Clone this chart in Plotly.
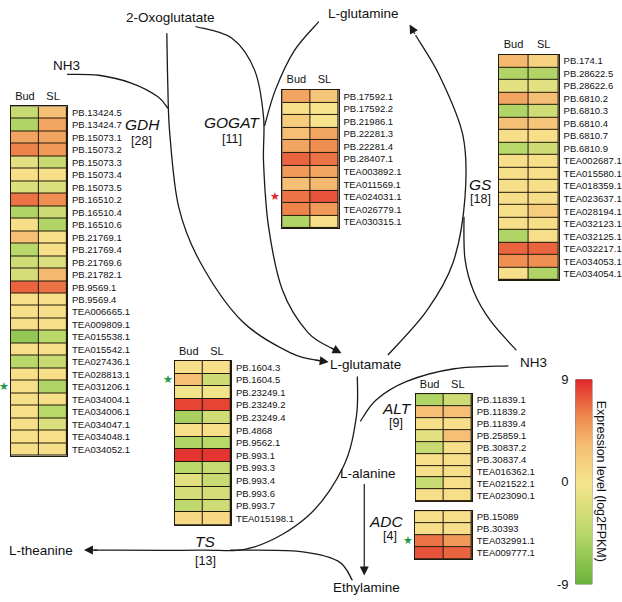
import numpy as np
import plotly.graph_objects as go

W, H = 622, 602

conditions = ["Bud", "SL"]

gdh_genes = ["PB.13424.5", "PB.13424.7", "PB.15073.1", "PB.15073.2", "PB.15073.3", "PB.15073.4",
             "PB.15073.5", "PB.16510.2", "PB.16510.4", "PB.16510.6", "PB.21769.1", "PB.21769.4",
             "PB.21769.6", "PB.21782.1", "PB.9569.1", "PB.9569.4", "TEA006665.1", "TEA009809.1",
             "TEA015538.1", "TEA015542.1", "TEA027436.1", "TEA028813.1", "TEA031206.1", "TEA034004.1",
             "TEA034006.1", "TEA034047.1", "TEA034048.1", "TEA034052.1"]
gdh_bud = [-3.5, -5, 4.5, 6, -1.5, 0.5, -2, 6.5, -5, 0.5, 3, -4.5, -3, -2.5, 7, 0.5, 0.5, 0.5,
           -6.5, 0.5, -4.5, 0.5, 0.5, 0.5, 0.5, 0.5, 0.5, 0.5]
gdh_sl = [3, 4.5, 4.5, 5, -3.5, 0.5, -2, 5.5, -3, -5, 0.5, 0.5, -2, 3.5, 6.5, 0.5, 0.5, 0.5,
          -4.5, 0.5, -3.5, 0.5, -5, 0.5, -4.5, -2, 0.5, 0.5]

gogat_genes = ["PB.17592.1", "PB.17592.2", "PB.21986.1", "PB.22281.3", "PB.22281.4", "PB.28407.1",
               "TEA003892.1", "TEA011569.1", "TEA024031.1", "TEA026779.1", "TEA030315.1"]
gogat_bud = [4.5, 0.5, 2, 3, 4.5, 7, 5, 3, 6.5, 6, -5]
gogat_sl = [2.5, 0, 0, 4.5, 5.5, 6.5, 4.5, 3.5, 7.5, 5, 0.5]

gs_genes = ["PB.174.1", "PB.28622.5", "PB.28622.6", "PB.6810.2", "PB.6810.3", "PB.6810.4",
            "PB.6810.7", "PB.6810.9", "TEA002687.1", "TEA015580.1", "TEA018359.1", "TEA023637.1",
            "TEA028194.1", "TEA032123.1", "TEA032125.1", "TEA032217.1", "TEA034053.1", "TEA034054.1"]
gs_bud = [3.5, -5, -1.5, 4.5, -5, 3, 0.5, -4.5, 0.5, 0.5, 0.5, 0.5, 0.5, 0.5, -5, 7, 5.5, 0.5]
gs_sl = [1.5, -5, -1.5, 3, -3, 2.5, 0.5, -3, 0.5, 0.5, 0.5, 0.5, 2, 0.5, 0.5, 7, 5.5, -5]

ts_genes = ["PB.1604.3", "PB.1604.5", "PB.23249.1", "PB.23249.2", "PB.23249.4", "PB.4868",
            "PB.9562.1", "PB.993.1", "PB.993.3", "PB.993.4", "PB.993.6", "PB.993.7", "TEA015198.1"]
ts_bud = [0.5, 3, -0.5, 8, -5.5, 0.5, -5, 8.5, -4.5, -1.5, -2.5, -4, 1]
ts_sl = [0.5, -3, -0.5, 8, -3, 0.5, -4.5, 8.5, -3.5, -3.5, -2.5, -3, 1]

alt_genes = ["PB.11839.1", "PB.11839.2", "PB.11839.4", "PB.25859.1", "PB.30837.2", "PB.30837.4",
             "TEA016362.1", "TEA021522.1", "TEA023090.1"]
alt_bud = [-5, 3, 0.5, -1.5, -3.5, 0.5, 0.5, -3.5, 0.5]
alt_sl = [-3, 3, 0.5, 3, 0.5, 0.5, 0.5, 0.5, 0.5]

adc_genes = ["PB.15089", "PB.30393", "TEA032991.1", "TEA009777.1"]
adc_bud = [0.5, 0.5, 6.5, 7.5]
adc_sl = [0.5, 0.5, 5, 7]

cbar_ticks = [-9, 0, 9]

COLORSCALE = [[0.0, "#69b23b"], [0.25, "#b9d86a"], [0.5, "#f7e48d"],
              [0.68, "#f5bd73"], [0.82, "#ee8a4e"], [1.0, "#e3262a"]]
FONT = "Liberation Sans, Arial, sans-serif"
LINE = "#1a1a1a"

fig = go.Figure()


def px(x):
    return x / W


def py(y):
    return 1 - y / H


# heatmap blocks: (genes, bud, sl, left, right, top, bottom, show column header)
blocks = [
    (gdh_genes, gdh_bud, gdh_sl, 11, 68, 102, 460, True),
    (gogat_genes, gogat_bud, gogat_sl, 286, 343, 85, 227, True),
    (gs_genes, gs_bud, gs_sl, 505, 566, 49, 280, True),
    (ts_genes, ts_bud, ts_sl, 177, 234, 363, 531, True),
    (alt_genes, alt_bud, alt_sl, 421, 478, 397, 507, True),
    (adc_genes, adc_bud, adc_sl, 420, 478, 517, 566, False),
]

layout_axes = {}
for i, (genes, bud, sl, l, r, t, b, header) in enumerate(blocks):
    k = i + 1
    xa = "x" if k == 1 else f"x{k}"
    ya = "y" if k == 1 else f"y{k}"
    fig.add_trace(go.Heatmap(
        z=[[a, c] for a, c in zip(bud, sl)], x=conditions, y=genes,
        zmin=-9, zmax=9, colorscale=COLORSCALE, showscale=False,
        xgap=1, ygap=1, xaxis=xa, yaxis=ya, hoverinfo="skip"))
    xname = "xaxis" if k == 1 else f"xaxis{k}"
    yname = "yaxis" if k == 1 else f"yaxis{k}"
    layout_axes[xname] = dict(
        domain=[px(l), px(r)], anchor=ya, side="top", showgrid=False, zeroline=False,
        ticks="", tickfont=dict(size=11, color="#111"), showline=True, mirror=True,
        linecolor="#221a0c", linewidth=1, fixedrange=True, ticklabelstandoff=1,
        showticklabels=header)
    layout_axes[yname] = dict(
        domain=[py(b), py(t)], anchor=xa, side="right", showgrid=False, zeroline=False,
        autorange="reversed", ticks="", tickmode="array", tickvals=genes, ticktext=genes,
        tickfont=dict(size=9.5, color="#111"), showline=True, mirror=True,
        linecolor="#221a0c", linewidth=1, fixedrange=True, ticklabelstandoff=2)

# colour bar as its own gradient axis
grad = np.linspace(-9, 9, 241)
fig.add_trace(go.Heatmap(z=[[v] for v in grad], y=grad, x=[0], zmin=-9, zmax=9,
                         colorscale=COLORSCALE, showscale=False, xaxis="x7", yaxis="y7",
                         hoverinfo="skip"))
layout_axes["xaxis7"] = dict(domain=[px(583), px(600)], anchor="y7", visible=False, fixedrange=True)
layout_axes["yaxis7"] = dict(domain=[py(592), py(382)], anchor="x7", range=[-9, 9], side="left",
                             tickvals=cbar_ticks, ticktext=[str(v) for v in cbar_ticks],
                             ticks="", showgrid=False, zeroline=False, showline=False,
                             tickfont=dict(size=13, color="#111"), fixedrange=True,
                             ticklabelstandoff=6)

fig.update_layout(**layout_axes)


def smooth(points):
    """Catmull-Rom spline through pixel points -> SVG path in paper units."""
    p = [np.array(v, dtype=float) for v in points]
    segs = [f"M{px(p[0][0]):.5f},{py(p[0][1]):.5f}"]
    n = len(p)
    for i in range(n - 1):
        a = p[i - 1] if i > 0 else p[i]
        b, c = p[i], p[i + 1]
        d = p[i + 2] if i + 2 < n else p[i + 1]
        c1 = b + (c - a) / 6
        c2 = c - (d - b) / 6
        segs.append("C" + " ".join(f"{px(q[0]):.5f},{py(q[1]):.5f}" for q in (c1, c2, c)))
    return " ".join(segs)


curves = [
    # NH3 (left) joining GDH
    [(68, 69), (100, 70), (133, 78), (160, 92), (170, 104)],
    # 2-oxoglutarate down, GDH -> L-glutamate
    [(169, 27), (170, 80), (172, 130), (181, 205), (203, 262), (245, 322), (295, 355), (326, 363)],
    # 2-oxoglutarate -> GOGAT -> L-glutamate
    [(198, 20), (235, 32), (258, 65), (267, 113), (267, 160), (272, 225), (286, 290),
     (312, 334), (340, 352)],
    # L-glutamine -> GOGAT
    [(323, 15), (298, 45), (279, 85), (268, 122)],
    # GS: L-glutamate -> L-glutamine
    [(393, 357), (432, 312), (459, 262), (471, 196), (469, 132), (446, 72), (421, 29)],
    # NH3 (right) joining GS
    [(523, 352), (497, 322), (480, 292), (471, 258), (470, 215)],
    # NH3 -> ALT branch, merging into TS line
    [(515, 368), (460, 371), (412, 384), (381, 403), (365, 425)],
    # L-glutamate -> TS -> L-theanine
    [(362, 379), (361, 420), (348, 471), (312, 522), (257, 554), (200, 557), (95, 557)],
    # Ethylamine -> TS
    [(357, 588), (342, 568), (300, 558), (233, 557)],
]
shapes = [dict(type="path", xref="paper", yref="paper", path=smooth(c),
               line=dict(color=LINE, width=1.3)) for c in curves]
fig.update_layout(shapes=shapes)

ann = []


def text(s, x, y, size=13.5, italic=False, color="#111", angle=0, family=FONT):
    ann.append(dict(text=s, x=px(x), y=py(y), xref="paper", yref="paper", showarrow=False,
                    xanchor="center", yanchor="middle", textangle=angle,
                    font=dict(size=size, color=color, family=family,
                              style="italic" if italic else "normal")))


def arrow(tip, tail):
    ann.append(dict(text="", x=px(tip[0]), y=py(tip[1]), xref="paper", yref="paper",
                    ax=tail[0] - tip[0], ay=tail[1] - tip[1], showarrow=True,
                    arrowhead=2, arrowsize=1.5, arrowwidth=1.2, arrowcolor=LINE, standoff=0))


text("2-Oxoglutatate", 173, 11)
text("L-glutamine", 368, 7)
text("NH3", 67, 60)
text("L-glutamate", 370, 367)
text("NH3", 540, 365)
text("L-alanine", 373, 478)
text("Ethylamine", 371, 595)
text("L-theanine", 42, 557)

text("GDH", 144, 120, size=15.5, italic=True)
text("[28]", 143, 137, size=12.5)
text("GOGAT", 235, 118, size=15.5, italic=True)
text("[11]", 235, 135, size=12.5)
text("GS", 487, 182, size=15.5, italic=True)
text("[18]", 487, 197, size=12.5)
text("ALT", 402, 412, size=15.5, italic=True)
text("[9]", 401, 427, size=12.5)
text("ADC", 392, 528, size=15.5, italic=True)
text("[4]", 395, 543, size=12.5)
text("TS", 208, 548, size=15.5, italic=True)
text("[13]", 208, 568, size=12.5)

text("Expression level (log2FPKM)", 609, 486, size=12.5, angle=90)

arrow((333, 364), (318, 362))
arrow((346, 355), (334, 349))
arrow((415, 18), (421, 29))
arrow((85, 557), (100, 557))
arrow((369, 583), (369, 490))


# stars next to highlighted rows
def row_center(block, gene):
    genes, _, _, l, r, t, b, _ = block
    n = len(genes)
    i = genes.index(gene)
    return t + (i + 0.5) * (b - t) / n, l


for blk, gene, col in [(blocks[0], "TEA031206.1", "#1f9a4c"), (blocks[1], "TEA024031.1", "#e3262a"),
                       (blocks[3], "PB.1604.5", "#1f9a4c"), (blocks[5], "TEA032991.1", "#1f9a4c")]:
    yc, l = row_center(blk, gene)
    text("★", l - 7, yc, size=11, color=col, family="DejaVu Sans")

fig.update_layout(annotations=ann, width=W, height=H, margin=dict(l=0, r=0, t=0, b=0),
                  paper_bgcolor="white", plot_bgcolor="#221a0c", showlegend=False,
                  font=dict(family=FONT, color="#111"))

fig.write_html("out.html", config={"displayModeBar": False},
               post_script="document.body.style.margin='0';document.body.style.overflow='hidden';")
